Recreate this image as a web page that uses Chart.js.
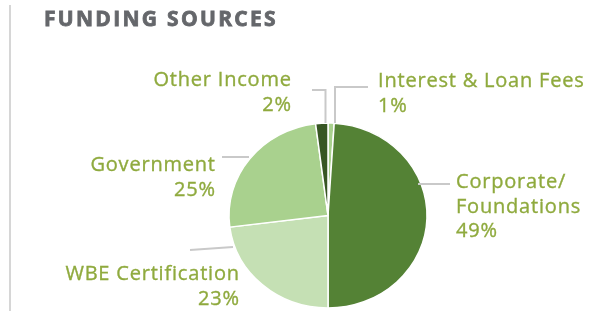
<!DOCTYPE html>
<html>
<head>
<meta charset="utf-8">
<script src="https://cdn.jsdelivr.net/npm/chart.js@4/dist/chart.umd.min.js"></script>
<style>
  html, body { margin: 0; padding: 0; background: #fff; overflow: hidden; }
  #wrap { position: relative; width: 589px; height: 311px; }
</style>
</head>
<body>
<div id="wrap"><canvas id="fundingChart" width="589" height="320"></canvas></div>
<script>
// Funding sources, clockwise from 12 o'clock
const categories = ['Interest & Loan Fees', ['Corporate/', 'Foundations'], 'WBE Certification', 'Government', 'Other Income'];
const shares = [1, 49, 23, 25, 2];
const sliceColors = ['#a9d18e', '#548235', '#c5e0b4', '#a9d18e', '#375623'];

const labelColor = '#8faa3e';
const leaderColor = '#c9c9c9';

// where each callout sits, relative to the pie centre
const callouts = [
    { line: [[7, -92.5], [7, -128.5], [40, -128.5]], x: 50, y: -128.5, align: 'left' },
    { line: [[90, -31.5], [122, -31.5]], x: 128, y: -27.5, align: 'left' },
    { line: [[-95, 31.5], [-138, 34.5]], x: -89, y: 64.5, align: 'right' },
    { line: [[-79, -58.5], [-106, -58.5]], x: -113, y: -44.5, align: 'right' },
    { line: [[-2.5, -92.5], [-2.5, -125.5], [-16, -125.5]], x: -37, y: -129.5, align: 'right' }
];

const ySquash = 185 / 198; // pie is slightly flattened in the original

const ellipsePlugin = {
    id: 'ellipse',
    beforeDatasetsDraw(chart) {
        const arc = chart.getDatasetMeta(0).data[0];
        const ctx = chart.ctx;
        ctx.save();
        ctx.translate(arc.x, arc.y);
        ctx.scale(1, ySquash);
        ctx.translate(-arc.x, -arc.y);
    },
    afterDatasetsDraw(chart) {
        chart.ctx.restore();
    }
};

function spacing(ctx, px) {
    if ('letterSpacing' in ctx) ctx.letterSpacing = px + 'px';
}

const calloutPlugin = {
    id: 'callouts',
    afterDraw(chart) {
        const ctx = chart.ctx;
        const arc = chart.getDatasetMeta(0).data[0];
        const cx = arc.x, cy = arc.y;

        // frame line at left
        ctx.save();
        ctx.strokeStyle = '#d6d6d6';
        ctx.lineWidth = 2;
        ctx.beginPath();
        ctx.moveTo(10, 5);
        ctx.lineTo(10, 311);
        ctx.stroke();

        // title
        ctx.fillStyle = '#65676b';
        ctx.strokeStyle = '#65676b';
        ctx.lineWidth = 0.8;
        ctx.font = 'bold 21px "Open Sans"';
        ctx.textAlign = 'left';
        ctx.textBaseline = 'alphabetic';
        spacing(ctx, 2.3);
        ctx.fillText('FUNDING SOURCES', 44, 26);
        ctx.strokeText('FUNDING SOURCES', 44, 26);

        chart.data.labels.forEach((label, i) => {
            const c = callouts[i];
            spacing(ctx, 0);
            ctx.strokeStyle = leaderColor;
            ctx.lineWidth = 2;
            ctx.beginPath();
            c.line.forEach((p, j) => {
                if (j === 0) ctx.moveTo(cx + p[0], cy + p[1]);
                else ctx.lineTo(cx + p[0], cy + p[1]);
            });
            ctx.stroke();

            const lines = [].concat(label, chart.data.datasets[0].data[i] + '%');
            ctx.fillStyle = labelColor;
            ctx.strokeStyle = labelColor;
            ctx.lineWidth = 0.35;
            ctx.font = '500 20px "Open Sans"';
            ctx.textAlign = c.align;
            spacing(ctx, 0.8);
            lines.forEach((t, k) => {
                // letter spacing adds trailing space; nudge right-aligned text back
                const x = cx + c.x + (c.align === 'right' ? 0.8 : 0);
                ctx.fillText(t, x, cy + c.y + k * 24.5);
                ctx.strokeText(t, x, cy + c.y + k * 24.5);
            });
        });
        ctx.restore();
    }
};

new Chart(document.getElementById('fundingChart'), {
    type: 'pie',
    data: {
        labels: categories,
        datasets: [{
            data: shares,
            backgroundColor: sliceColors,
            borderColor: '#ffffff',
            borderWidth: 1.5,
            radius: 99
        }]
    },
    options: {
        responsive: false,
        animation: false,
        layout: { padding: { left: 67, right: 0, top: 116, bottom: 5 } },
        plugins: {
            legend: { display: false },
            tooltip: { enabled: false }
        }
    },
    plugins: [ellipsePlugin, calloutPlugin]
});
</script>
</body>
</html>
